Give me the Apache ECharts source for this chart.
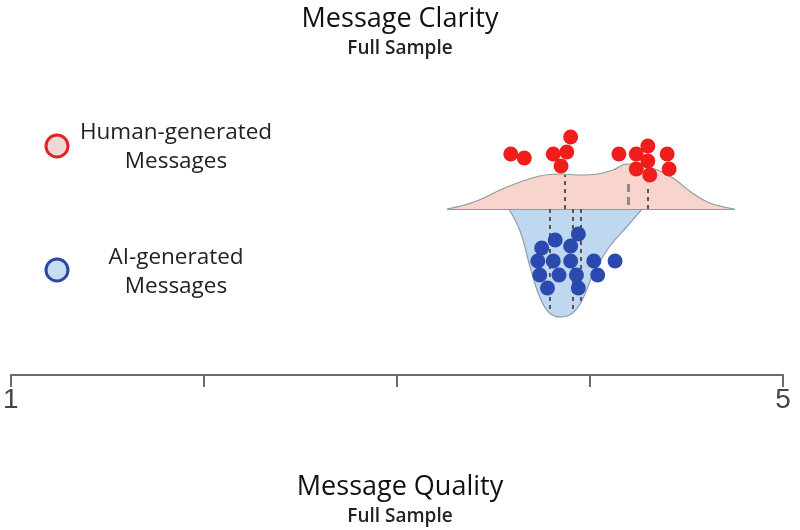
<!DOCTYPE html>
<html>
<head>
<meta charset="utf-8">
<script src="https://cdn.jsdelivr.net/npm/echarts@6/dist/echarts.min.js"></script>
<style>
html, body { margin: 0; padding: 0; background: #fff; }
#chartArea { width: 800px; height: 530px; }
</style>
</head>
<body>
<div id="chartArea"></div>
<script>
// density outline of the human half (above the baseline)
var humanCurveX = [3.26, 3.40, 3.57, 3.74, 3.85, 3.95, 4.04, 4.12, 4.19, 4.26, 4.35, 4.43, 4.53, 4.62, 4.75];
var humanCurveY = [0, 0.7, 2.2, 3.3, 3.5, 3.4, 3.5, 3.9, 4.5, 4.4, 3.9, 3.1, 1.6, 0.6, 0];
// density outline of the AI half (below the baseline)
var aiCurveX = [3.58, 3.64, 3.69, 3.74, 3.79, 3.85, 3.91, 3.96, 4.02, 4.10, 4.19, 4.27];
var aiCurveY = [0, -2.3, -5.8, -8.8, -10.4, -10.8, -10.4, -9.1, -6.4, -3.8, -1.8, 0];

var humanDotsX = [3.59, 3.66, 3.81, 3.88, 3.90, 3.85, 4.15, 4.24, 4.30, 4.30, 4.24, 4.31, 4.40, 4.41];
var humanDotsY = [5.5, 5.1, 5.5, 5.7, 7.2, 4.3, 5.5, 5.5, 6.3, 4.8, 4.0, 3.4, 5.5, 4.0];
var aiDotsX = [3.82, 3.94, 3.75, 3.90, 3.73, 3.81, 3.90, 4.02, 4.13, 3.74, 3.84, 3.93, 4.04, 3.78, 3.94];
var aiDotsY = [-3.1, -2.5, -3.9, -3.7, -5.2, -5.2, -5.2, -5.2, -5.2, -6.6, -6.6, -6.6, -6.6, -7.9, -7.9];

// dashed reference lines: x position, start and end height
var humanLinesX = [3.87, 4.30];
var humanLinesTop = [3.4, 2.4];
var humanMidX = 4.20;
var humanMidTop = 2.9;
var aiLinesX = [3.79, 3.91, 3.95];
var aiLinesBottom = [-10.2, -10.2, -9.3];

var axisTicks = [1, 2, 3, 4, 5];
var axisShown = ['1', '5'];

function zip(xs, ys) {
    return xs.map(function(x, i) { return [x, ys[i]]; });
}

function segs(xs, y0s, y1s) {
    return xs.map(function(x, i) {
        return [{coord: [x, y0s[i]]}, {coord: [x, y1s[i]]}];
    });
}

var fontFamily = '"Open Sans", "Noto Sans", sans-serif';
var dashStyle = {color: '#555', width: 2, type: [4, 4]};

var myChart = echarts.init(document.getElementById('chartArea'));

myChart.setOption({
    animation: false,
    title: [{
        text: 'Message Clarity',
        subtext: 'Full Sample',
        left: 'center',
        top: 1,
        itemGap: 6,
        textStyle: {fontFamily: fontFamily, fontSize: 27, fontWeight: 'normal', color: '#111'},
        subtextStyle: {fontFamily: fontFamily, fontSize: 19, fontWeight: 600, color: '#222'}
    }, {
        text: 'Message Quality',
        subtext: 'Full Sample',
        left: 'center',
        top: 469,
        itemGap: 6,
        textStyle: {fontFamily: fontFamily, fontSize: 27, fontWeight: 'normal', color: '#111'},
        subtextStyle: {fontFamily: fontFamily, fontSize: 19, fontWeight: 600, color: '#222'}
    }],
    graphic: [
        {type: 'circle', shape: {cx: 57, cy: 146, r: 11},
         style: {fill: '#f0d8d8', stroke: '#e32222', lineWidth: 3}},
        {type: 'text', x: 176, y: 147,
         style: {text: 'Human-generated\nMessages', fill: '#222', font: '22.5px ' + fontFamily,
                 align: 'center', verticalAlign: 'middle', lineHeight: 29}},
        {type: 'circle', shape: {cx: 57, cy: 270, r: 11},
         style: {fill: '#c9ddf2', stroke: '#2a47a8', lineWidth: 3}},
        {type: 'text', x: 176, y: 272,
         style: {text: 'AI-generated\nMessages', fill: '#222', font: '22.5px ' + fontFamily,
                 align: 'center', verticalAlign: 'middle', lineHeight: 29}}
    ],
    grid: {left: 10, right: 17, top: 80, bottom: 155},
    xAxis: {
        type: 'value',
        min: 1,
        max: 5,
        interval: 1,
        splitLine: {show: false},
        axisLine: {show: true, onZero: false, lineStyle: {color: '#6b6b6b', width: 2}},
        axisTick: {show: true, length: 12, lineStyle: {color: '#6b6b6b', width: 2}},
        axisLabel: {
            margin: 11,
            fontSize: 28,
            color: '#444',
            fontFamily: '"Liberation Sans", Arial, sans-serif',
            formatter: function(v) {
                var s = String(v);
                return axisTicks.indexOf(v) >= 0 && axisShown.indexOf(s) >= 0 ? s : '';
            }
        }
    },
    yAxis: {type: 'value', show: false, min: -16.6, max: 12.9},
    series: [{
        name: 'Human-generated Messages',
        type: 'line',
        smooth: 0.4,
        symbol: 'none',
        z: 1,
        data: zip(humanCurveX, humanCurveY),
        lineStyle: {color: '#8e9c96', width: 1.2},
        areaStyle: {color: '#f7d5cd', opacity: 1},
        markLine: {
            silent: true,
            symbol: 'none',
            label: {show: false},
            lineStyle: dashStyle,
            data: segs(humanLinesX, humanLinesX.map(function() { return 0; }), humanLinesTop).concat([
                [{coord: [humanMidX, 0.4], lineStyle: {color: '#8a8a8a', width: 3, type: [8, 5]}},
                 {coord: [humanMidX, humanMidTop]}],
                [{coord: [humanCurveX[0], 0], lineStyle: {color: '#8e9c96', width: 1.2, type: 'solid'}},
                 {coord: [humanCurveX[humanCurveX.length - 1], 0]}]
            ])
        }
    }, {
        name: 'AI-generated Messages',
        type: 'line',
        smooth: 0.4,
        symbol: 'none',
        z: 1,
        data: zip(aiCurveX, aiCurveY),
        lineStyle: {color: '#8b9eb0', width: 1.2},
        areaStyle: {color: '#bfd8f0', opacity: 1},
        markLine: {
            silent: true,
            symbol: 'none',
            label: {show: false},
            lineStyle: dashStyle,
            data: segs(aiLinesX, aiLinesX.map(function() { return 0; }), aiLinesBottom)
        }
    }, {
        type: 'scatter',
        symbolSize: 15,
        z: 10,
        data: zip(humanDotsX, humanDotsY),
        itemStyle: {color: '#f01d1d', opacity: 1}
    }, {
        type: 'scatter',
        symbolSize: 15,
        z: 10,
        data: zip(aiDotsX, aiDotsY),
        itemStyle: {color: '#2b49ae', opacity: 1}
    }]
});
</script>
</body>
</html>
